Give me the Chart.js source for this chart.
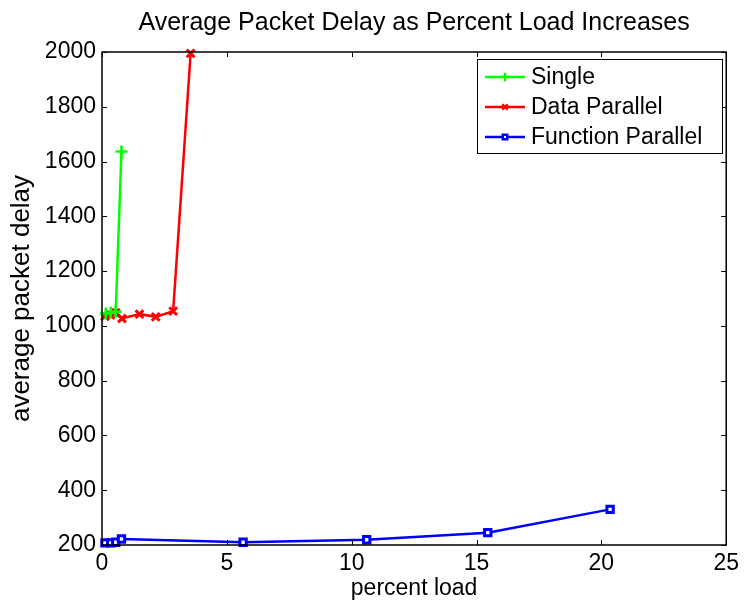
<!DOCTYPE html>
<html>
<head>
<meta charset="utf-8">
<script src="https://cdn.jsdelivr.net/npm/chart.js@4/dist/chart.umd.min.js"></script>
<style>
  html, body { margin: 0; padding: 0; background: #fff; }
  #wrap { width: 744px; height: 600px; }
</style>
</head>
<body>
<div id="wrap"><canvas id="c" width="744" height="600"></canvas></div>
<script>
// ---- data ----
const singleX = [0.15, 0.35, 0.55, 0.78];
const singleY = [1045, 1048, 1052, 1637];

const dataParX = [0.12, 0.35, 0.55, 0.8, 1.5, 2.15, 2.85, 3.55];
const dataParY = [1035, 1040, 1048, 1027, 1043, 1033, 1054, 1995];

const funcParX = [0.12, 0.35, 0.55, 0.78, 5.65, 10.6, 15.45, 20.35];
const funcParY = [208, 208, 210, 222, 210, 219, 245, 330];

const xTicks = [0, 5, 10, 15, 20, 25];
const yTicks = [200, 400, 600, 800, 1000, 1200, 1400, 1600, 1800, 2000];

const seriesNames = ['Single', 'Data Parallel', 'Function Parallel'];
const seriesColors = ['#00ff00', '#ff0000', '#0000ff'];
const seriesMarkers = ['cross', 'crossRot', 'rect'];

const titleText = 'Average Packet Delay as Percent Load Increases';
const xLabel = 'percent load';
const yLabel = 'average packet delay';

const FONT = '"Liberation Sans", Arial, Helvetica, sans-serif';

function pts(xs, ys) { return xs.map((x, i) => ({ x: x, y: ys[i] })); }

Chart.defaults.color = '#000';
Chart.defaults.font.family = FONT;

const boxPlugin = {
  id: 'matlabBox',
  afterDatasetsDraw(chart) {
    const { ctx, chartArea: a, scales } = chart;
    const xs = scales.x, ys = scales.y;
    ctx.save();
    ctx.strokeStyle = '#000';
    ctx.lineWidth = 1.5;
    ctx.strokeRect(a.left, a.top, a.right - a.left, a.bottom - a.top);
    ctx.lineWidth = 1;
    const tl = 5;
    ctx.beginPath();
    xTicks.forEach(v => {
      const px = Math.round(xs.getPixelForValue(v)) + 0.5;
      ctx.moveTo(px, a.bottom); ctx.lineTo(px, a.bottom - tl);
      ctx.moveTo(px, a.top); ctx.lineTo(px, a.top + tl);
    });
    yTicks.forEach(v => {
      const py = Math.round(ys.getPixelForValue(v)) + 0.5;
      ctx.moveTo(a.left, py); ctx.lineTo(a.left + tl, py);
      ctx.moveTo(a.right, py); ctx.lineTo(a.right - tl, py);
    });
    ctx.stroke();

    // legend inside plot, top-right
    const lx = 477, ly = 59, lw = 245, lh = 94;
    ctx.fillStyle = '#fff';
    ctx.fillRect(lx, ly, lw, lh);
    ctx.strokeStyle = '#000';
    ctx.lineWidth = 1;
    ctx.strokeRect(lx + 0.5, ly + 0.5, lw, lh);
    const rows = [77, 107, 137];
    ctx.font = '23px ' + FONT;
    ctx.textBaseline = 'middle';
    ctx.textAlign = 'left';
    chart.data.datasets.forEach((ds, i) => {
      const y = rows[i];
      ctx.strokeStyle = ds.borderColor;
      ctx.lineWidth = 2.5;
      ctx.beginPath();
      ctx.moveTo(485, y); ctx.lineTo(525, y);
      ctx.stroke();
      ctx.fillStyle = ds.pointBackgroundColor;
      Chart.helpers.drawPoint(ctx, {
        pointStyle: ds.pointStyle, radius: ds.pointRadius * 0.7,
        borderWidth: ds.pointBorderWidth, rotation: 0
      }, 505, y);
      ctx.fillStyle = '#000';
      ctx.fillText(ds.label, 531, y + 1);
    });
    ctx.restore();
  }
};

function ds(i, xs, ys, radius, bw) {
  return {
    label: seriesNames[i],
    data: pts(xs, ys),
    borderColor: seriesColors[i],
    backgroundColor: i === 2 ? '#ffffff' : seriesColors[i],
    pointBorderColor: seriesColors[i],
    pointBackgroundColor: i === 2 ? '#ffffff' : seriesColors[i],
    pointStyle: seriesMarkers[i],
    pointRadius: radius,
    pointBorderWidth: bw,
    borderWidth: 2.5,
    tension: 0,
    showLine: true,
    clip: false
  };
}

new Chart(document.getElementById('c'), {
  type: 'scatter',
  data: {
    datasets: [
      ds(0, singleX, singleY, 6, 2.5),
      ds(1, dataParX, dataParY, 5.5, 3),
      ds(2, funcParX, funcParY, 4.5, 3)
    ]
  },
  options: {
    responsive: false,
    devicePixelRatio: 1,
    animation: false,
    layout: { padding: { left: 0, right: 15, top: 0, bottom: 0 } },
    plugins: {
      legend: { display: false },
      tooltip: { enabled: false },
      title: {
        display: true,
        fullSize: false,
        text: titleText,
        color: '#000',
        font: { size: 25, weight: 'normal', family: FONT, lineHeight: 1.2 },
        padding: { top: 8, bottom: 14 }
      }
    },
    scales: {
      x: {
        type: 'linear',
        min: 0, max: 25,
        afterFit(s) { s.height = 55; },
        afterBuildTicks(s) { s.ticks = xTicks.map(v => ({ value: v })); },
        grid: { display: false, drawTicks: false },
        border: { display: false },
        ticks: { font: { size: 23, family: FONT }, padding: 5, color: '#000', maxRotation: 0,
                 callback: v => String(v) },
        title: {
          display: true, text: xLabel, color: '#000',
          font: { size: 23, family: FONT, lineHeight: 1.0 },
          padding: { top: 0, bottom: 0 }
        }
      },
      y: {
        type: 'linear',
        min: 200, max: 2000,
        afterFit(s) { s.width = 102; },
        afterBuildTicks(s) { s.ticks = yTicks.map(v => ({ value: v })); },
        grid: { display: false, drawTicks: false },
        border: { display: false },
        ticks: { font: { size: 23, family: FONT }, padding: 6, color: '#000',
                 callback: v => String(v) },
        title: {
          display: true, text: yLabel, color: '#000',
          font: { size: 26, family: FONT, lineHeight: 1.0 },
          padding: { top: 9, bottom: 0 }
        }
      }
    }
  },
  plugins: [boxPlugin]
});
</script>
</body>
</html>
